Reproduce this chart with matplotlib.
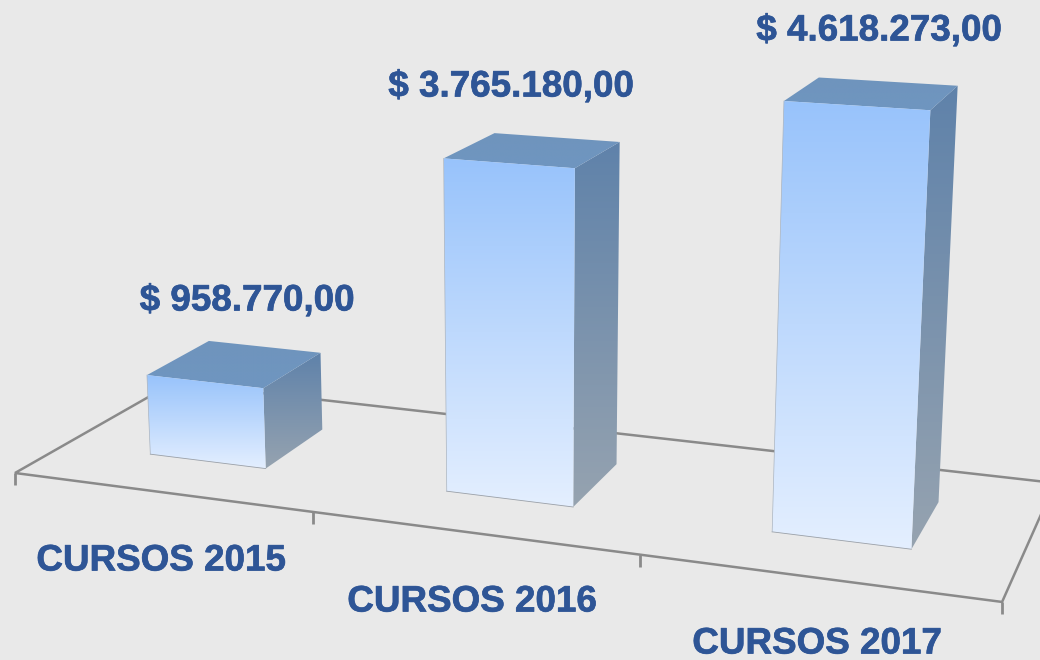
import numpy as np
import matplotlib.pyplot as plt
import matplotlib.patheffects as pe
from matplotlib.colors import LinearSegmentedColormap
from matplotlib.patches import Polygon

categories = ['CURSOS 2015', 'CURSOS 2016', 'CURSOS 2017']
values = [958770, 3765180, 4618273]

# where the labels sit on the canvas (pixels)
cat_label_pos = [(161, 561), (472, 602), (817, 644)]
val_label_pos = [(247, 301), (511, 87), (879, 31)]

# bar footprint inside each category slot of the floor
bar_x = (0.30, 0.70)
bar_y = (0.30, 0.71)

BG = '#e9e9e9'
TEXT = '#2e5596'
AXIS = '#8a8a8a'

# camera: floor (u, v) + height -> canvas pixels, homogeneous
Z_W = -0.0433 / 4618273
P = np.array([
    [850.0, 180.0, 530.0 * Z_W, 15.0],
    [46.6, -41.2, 9387.0 * Z_W, 473.0],
    [-0.1368, 0.1273, Z_W, 1.0],
])


def project(x, y, z=0.0):
    # x in categories (0..3), y in depth (0..1), z in money
    p = P @ np.array([x / 3.0, y, z, 1.0])
    return p[0] / p[2], p[1] / p[2]


def money(v):
    s = f'{v:,.2f}'.replace(',', 'X').replace('.', ',').replace('X', '.')
    return '$ ' + s


def grad_face(ax, pts, top, bottom, zorder):
    # vertical gradient clipped to the face polygon
    pts = np.array(pts)
    cmap = LinearSegmentedColormap.from_list('f', [top, bottom])
    poly = Polygon(pts, closed=True, fc='none', ec='none', zorder=zorder)
    ax.add_patch(poly)
    im = ax.imshow(np.linspace(0, 1, 256).reshape(-1, 1), cmap=cmap, aspect='auto',
                   extent=(pts[:, 0].min(), pts[:, 0].max(), pts[:, 1].max(), pts[:, 1].min()),
                   zorder=zorder, interpolation='bilinear')
    im.set_clip_path(poly)


fig = plt.figure(figsize=(10.4, 6.6), dpi=100, facecolor=BG)
ax = fig.add_axes([0, 0, 1, 1])
ax.set_facecolor(BG)
ax.axis('off')

# floor outline
floor = [project(0, 1), project(0, 0), project(3, 0), project(3, 1), project(0, 1)]
ax.plot(*zip(*floor), color=AXIS, lw=1.8, zorder=1, solid_joinstyle='miter')

# ticks below the front edge
for i in range(len(categories) + 1):
    tx, ty = project(i, 0)
    ax.plot([tx, tx], [ty, ty + 12], color=AXIS, lw=2.0, zorder=1, solid_capstyle='butt')

# bars
for i, v in enumerate(values):
    x0, x1 = i + bar_x[0], i + bar_x[1]
    y0, y1 = bar_y
    front = [project(x0, y0, v), project(x1, y0, v), project(x1, y0), project(x0, y0)]
    side = [project(x1, y0, v), project(x1, y1, v), project(x1, y1), project(x1, y0)]
    top = [project(x0, y1, v), project(x1, y1, v), project(x1, y0, v), project(x0, y0, v)]
    grad_face(ax, side, '#5f82aa', '#96a3b0', 3 + i)
    grad_face(ax, top, '#6f94bd', '#6f96c0', 3 + i)
    grad_face(ax, front, '#98c3fb', '#e4efff', 3 + i)
    ax.plot([front[3][0], front[2][0]], [front[3][1], front[2][1]], color='#9aa0a8', lw=0.6, zorder=3 + i)
    ax.plot([front[3][0], front[0][0]], [front[3][1], front[0][1]], color='#aab4c0', lw=0.5, zorder=3 + i)

font = dict(family='Liberation Sans', fontweight='bold', fontsize=26.5, color=TEXT,
            ha='center', va='center', zorder=10,
            path_effects=[pe.withStroke(linewidth=0.5, foreground=TEXT)])
for label, pos in zip(categories, cat_label_pos):
    ax.text(pos[0], pos[1], label, **font)
for v, pos in zip(values, val_label_pos):
    ax.text(pos[0], pos[1], money(v), **font)

ax.set_xlim(0, 1040)
ax.set_ylim(660, 0)

fig.savefig('out.png', dpi=100, facecolor=BG)
